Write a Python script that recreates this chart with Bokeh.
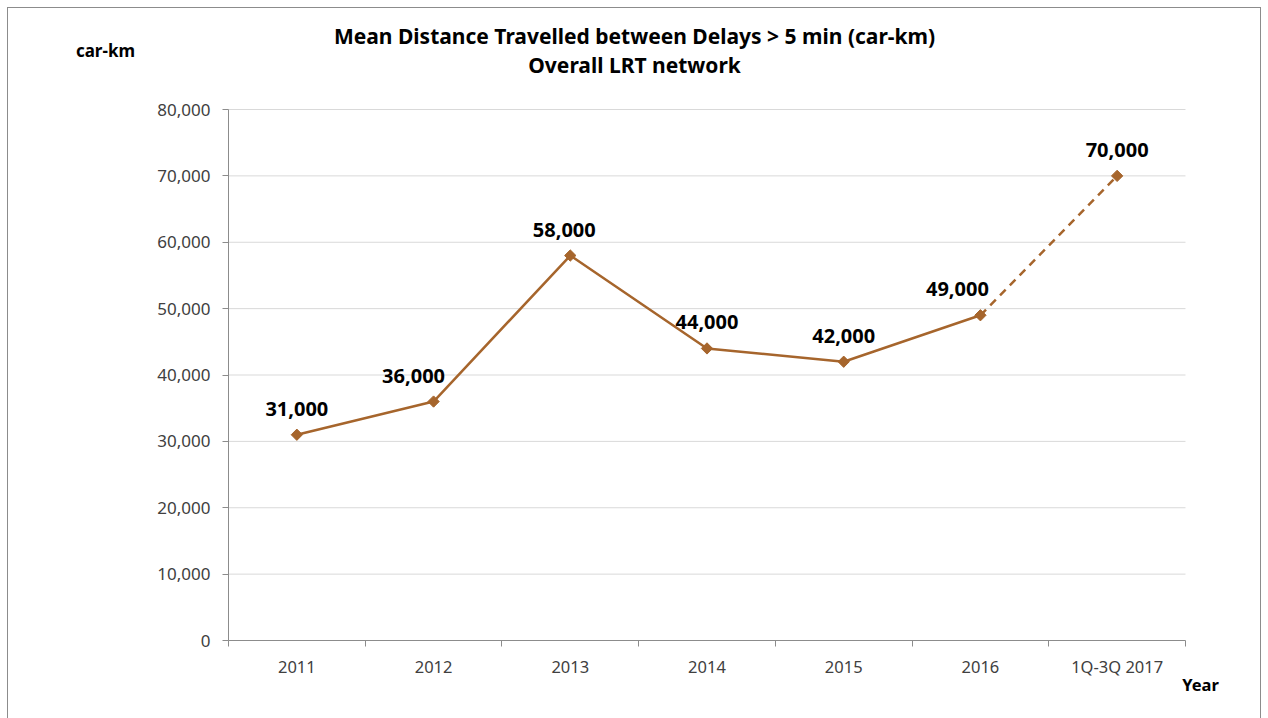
import math
from bokeh.plotting import figure
from bokeh.models import Range1d, FixedTicker, NumeralTickFormatter, Label, ColumnDataSource
from bokeh.core.properties import value
from bokeh.embed import file_html
from bokeh.resources import INLINE

categories = ["2011", "2012", "2013", "2014", "2015", "2016", "1Q-3Q 2017"]
values = [31000, 36000, 58000, 44000, 42000, 49000, 70000]
value_labels = ["31,000", "36,000", "58,000", "44,000", "42,000", "49,000", "70,000"]
y_ticks = [0, 10000, 20000, 30000, 40000, 50000, 60000, 70000, 80000]
title_lines = ["Mean Distance Travelled between Delays > 5 min (car-km)", "Overall LRT network"]
y_title = "car-km"
x_title = "Year"

FONT = "Noto Sans"
BROWN = "#A6652C"
AXIS = "#8c8c8c"

n = len(categories)
xs = [i + 0.5 for i in range(n)]
label_dx = [0, -20, -6, 0, 0, -23, 0]
y_max = y_ticks[-1]

# The frame fills the whole canvas so that titles can be drawn as in-frame annotations;
# the visible "plot area" is [0, n] x [0, y_max], delimited by bounded axes.
p = figure(width=1254, height=711, output_backend="svg", toolbar_location=None,
           x_range=Range1d(-1.6092, 7.5633), y_range=Range1d(-11902, 95217),
           min_border=0, min_border_left=0, min_border_right=0,
           min_border_top=0, min_border_bottom=0)
p.styles = {"border-left": "1px solid #8c8c8c", "border-top": "1px solid #8c8c8c",
            "border-right": "1px solid #8c8c8c", "margin-left": "7px", "margin-top": "7px"}
p.outline_line_color = None
p.background_fill_color = "white"
p.border_fill_color = "white"
p.xgrid.visible = False
p.ygrid.visible = False

# horizontal gridlines across the plot area only
p.segment(x0=[0] * (len(y_ticks) - 1), x1=[n] * (len(y_ticks) - 1),
          y0=y_ticks[1:], y1=y_ticks[1:], line_color="#d9d9d9", line_width=1)

# axes
p.xaxis.fixed_location = 0
p.xaxis.bounds = (0, n)
p.xaxis.ticker = FixedTicker(ticks=xs, minor_ticks=list(range(n + 1)))
p.xaxis.major_label_overrides = {x: c for x, c in zip(xs, categories)}
p.xaxis.major_tick_line_color = None
p.xaxis.minor_tick_line_color = AXIS
p.xaxis.minor_tick_out = 6
p.xaxis.minor_tick_in = 0
p.xaxis.axis_line_color = AXIS
p.xaxis.major_label_text_font = FONT
p.xaxis.major_label_text_font_size = "16.5px"
p.xaxis.major_label_text_color = "#404040"
p.xaxis.major_label_standoff = 8

p.yaxis.fixed_location = 0
p.yaxis.bounds = (0, y_max)
p.yaxis.ticker = FixedTicker(ticks=y_ticks, minor_ticks=[])
p.yaxis.formatter = NumeralTickFormatter(format="0,0")
p.yaxis.major_tick_line_color = AXIS
p.yaxis.major_tick_out = 6
p.yaxis.major_tick_in = 0
p.yaxis.minor_tick_line_color = None
p.yaxis.axis_line_color = AXIS
p.yaxis.major_label_text_font = FONT
p.yaxis.major_label_text_font_size = "17px"
p.yaxis.major_label_text_color = "#404040"
p.yaxis.major_label_standoff = 12

# lines
p.line(xs[:-1], values[:-1], line_color=BROWN, line_width=2.5)
p.line(xs[-2:], values[-2:], line_color=BROWN, line_width=2.5, line_dash="8 6")
p.scatter(xs, values, marker="square", size=8, angle=math.pi / 4,
          fill_color=BROWN, line_color=BROWN)

src = ColumnDataSource(dict(x=xs, y=values, t=value_labels, dx=label_dx))
p.text(x="x", y="y", text="t", x_offset="dx", y_offset=-19, source=src,
       text_align="center", text_baseline="bottom", text_font=value(FONT),
       text_font_style="bold", text_font_size="20px", text_color="black")

# titles
for i, t in enumerate(title_lines):
    p.add_layout(Label(x=2.97, y=91000 - 4370 * i,
                       text=t, text_align="center", text_baseline="middle", text_font=FONT,
                       text_font_style="bold", text_font_size="21px", text_color="black"))
p.add_layout(Label(x=-0.90, y=88900,
                   text=y_title, text_align="center", text_baseline="middle", text_font=FONT,
                   text_font_style="bold", text_font_size="17px", text_color="black"))
p.add_layout(Label(x=7.11, y=-6630,
                   text=x_title, text_align="center", text_baseline="middle", text_font=FONT,
                   text_font_style="bold", text_font_size="16.5px", text_color="black"))

open("out.html", "w").write(file_html(p, INLINE))
